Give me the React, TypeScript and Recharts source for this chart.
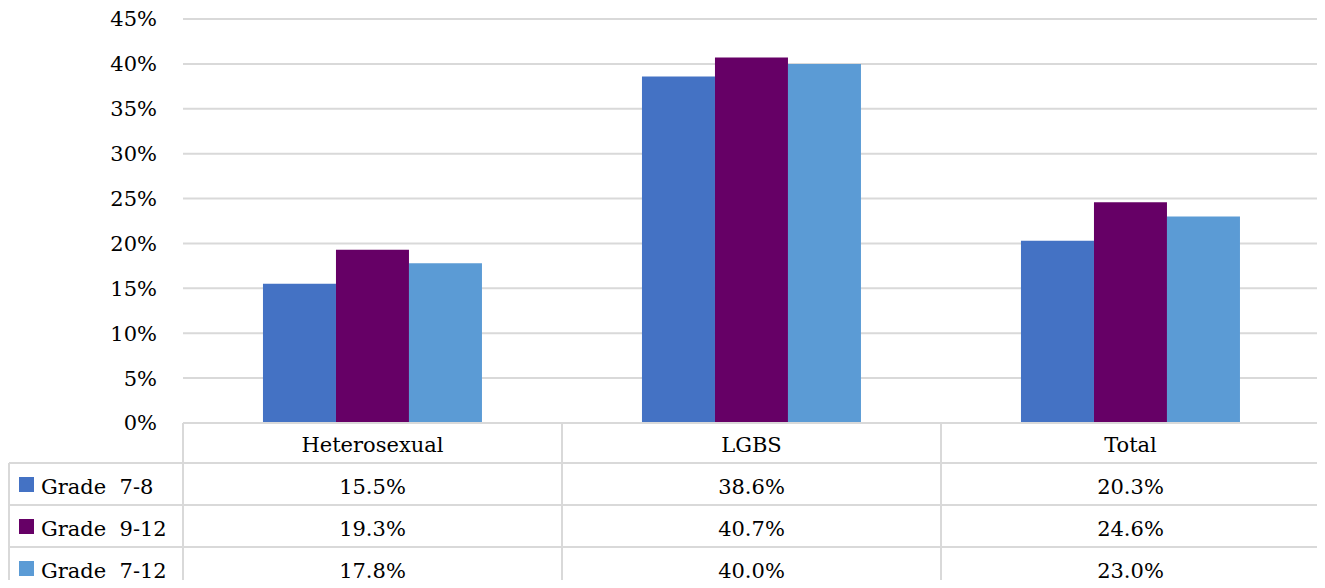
import { Bar, BarChart, CartesianGrid, XAxis, YAxis } from 'recharts';

const categories = ['Heterosexual', 'LGBS', 'Total'];
const grade78 = [15.5, 38.6, 20.3];
const grade912 = [19.3, 40.7, 24.6];
const grade712 = [17.8, 40.0, 23.0];
const yTicks = [0, 5, 10, 15, 20, 25, 30, 35, 40, 45];

const series = [
  { key: 'g78', name: 'Grade  7-8', color: '#4472C4', values: grade78 },
  { key: 'g912', name: 'Grade  9-12', color: '#660066', values: grade912 },
  { key: 'g712', name: 'Grade  7-12', color: '#5B9BD5', values: grade712 },
];

const data = categories.map((name, i) => ({
  name,
  g78: grade78[i],
  g912: grade912[i],
  g712: grade712[i],
}));

const FONT = "'DejaVu Serif', 'Liberation Serif', serif";
const BORDER = '#d9d9d9';
const BAND = 379;
const HEADER_H = 40;
const ROW_H = 42;
const LEFT_COL = 174;
const textStyle = { fontFamily: FONT, fontSize: 21, fill: '#000' };

// renders the data table under the plot: header cell + one value per series
function TableTick(props: any) {
  const { x, y, payload, index } = props;
  const left = x - BAND / 2;
  const i = categories.indexOf(payload.value);
  const bottom = y + HEADER_H + ROW_H * series.length;
  return (
    <g>
      <line x1={left} x2={left + BAND} y1={y} y2={y} stroke={BORDER} strokeWidth={2} />
      <line x1={left} x2={left} y1={y} y2={bottom} stroke={BORDER} strokeWidth={2} />
      <line x1={left + BAND} x2={left + BAND} y1={y} y2={bottom} stroke={BORDER} strokeWidth={2} />
      <text x={x} y={y + 29} textAnchor="middle" style={textStyle}>
        {payload.value}
      </text>
      {series.map((s, r) => {
        const top = y + HEADER_H + ROW_H * r;
        return (
          <g key={s.key}>
            <line x1={left} x2={left + BAND} y1={top} y2={top} stroke={BORDER} strokeWidth={2} />
            <text x={x} y={top + 31} textAnchor="middle" style={textStyle}>
              {s.values[i].toFixed(1)}%
            </text>
          </g>
        );
      })}
      {index === 0 &&
        series.map((s, r) => {
          const top = y + HEADER_H + ROW_H * r;
          const l = left - LEFT_COL;
          return (
            <g key={'legend' + s.key}>
              <line x1={l} x2={left} y1={top} y2={top} stroke={BORDER} strokeWidth={2} />
              <line x1={l} x2={l} y1={top} y2={top + ROW_H} stroke={BORDER} strokeWidth={2} />
              <rect x={l + 10} y={top + 14} width={15} height={15} fill={s.color} />
              <text x={l + 32} y={top + 31} style={{ ...textStyle, whiteSpace: 'pre' }}>
                {s.name}
              </text>
            </g>
          );
        })}
    </g>
  );
}

export default function App() {
  return (
    <div style={{ margin: -8, background: '#fff', fontFamily: FONT }}>
      <BarChart
        width={1325}
        height={588}
        data={data}
        margin={{ top: 19, right: 5, left: 0, bottom: 0 }}
        barCategoryGap="21.1%"
        barGap={0}
      >
        <CartesianGrid vertical={false} stroke={BORDER} strokeWidth={2} />
        <YAxis
          width={183}
          domain={[0, 45]}
          ticks={yTicks}
          interval={0}
          axisLine={false}
          tickLine={false}
          tickMargin={20}
          tickFormatter={(v) => `${v}%`}
          tick={{ fontSize: 21, fill: '#000', style: { fontFamily: FONT } }}
        />
        <XAxis
          dataKey="name"
          height={165}
          axisLine={false}
          tickLine={false}
          tickSize={0}
          tickMargin={0}
          interval={0}
          tick={<TableTick />}
        />
        {series.map((s) => (
          <Bar key={s.key} dataKey={s.key} name={s.name} fill={s.color} isAnimationActive={false} />
        ))}
      </BarChart>
    </div>
  );
}
